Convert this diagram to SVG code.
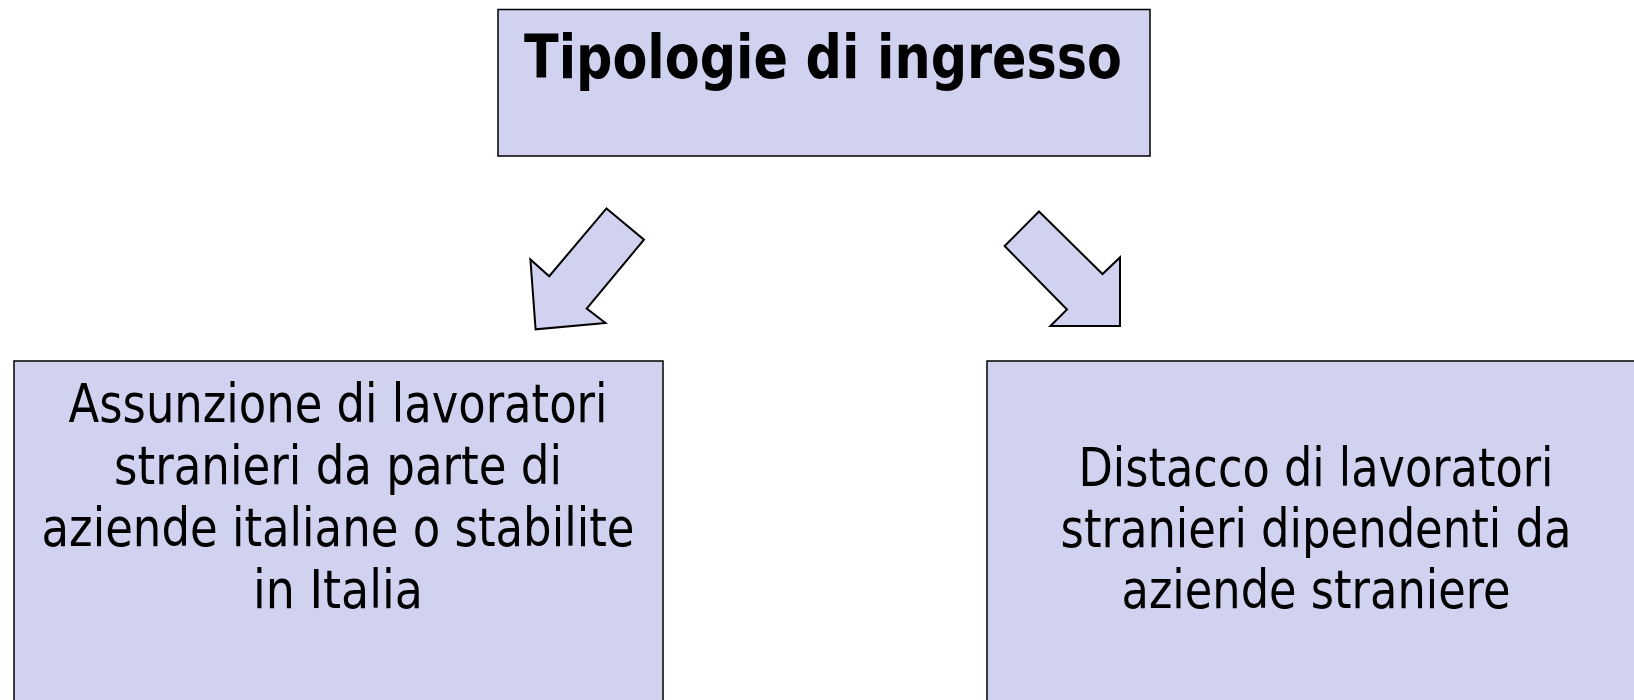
<svg xmlns="http://www.w3.org/2000/svg" width="1634" height="700" viewBox="0 0 1634 700">
<style>
.box{fill:#D1D2F0;stroke:#000;stroke-width:1.5}
.arrow{fill:#D1D2F0;stroke:#000;stroke-width:2;stroke-linejoin:miter}
.t{font-family:"DejaVu Sans Condensed","DejaVu Sans",sans-serif;fill:#000;text-anchor:middle}
.title{font-size:60px;font-weight:bold}
.body{font-size:53px}
</style>
<rect width="1634" height="700" fill="#fff"/>
<g id="node-top">
<rect class="box" x="498" y="9.5" width="652" height="146.5"/>
<text class="t title" x="823" y="78" textLength="598" lengthAdjust="spacingAndGlyphs">Tipologie di ingresso</text>
</g>
<g id="node-left">
<rect class="box" x="14" y="361" width="649" height="350"/>
<text class="t body" x="338" y="422" textLength="539" lengthAdjust="spacingAndGlyphs">Assunzione di lavoratori</text>
<text class="t body" x="338" y="484" textLength="448" lengthAdjust="spacingAndGlyphs">stranieri da parte di</text>
<text class="t body" x="338" y="546" textLength="593" lengthAdjust="spacingAndGlyphs">aziende italiane o stabilite</text>
<text class="t body" x="338" y="608" textLength="170" lengthAdjust="spacingAndGlyphs">in Italia</text>
</g>
<g id="node-right">
<rect class="box" x="987" y="361" width="660" height="350"/>
<text class="t body" x="1316" y="486" textLength="475" lengthAdjust="spacingAndGlyphs">Distacco di lavoratori</text>
<text class="t body" x="1316" y="547" textLength="511" lengthAdjust="spacingAndGlyphs">stranieri dipendenti da</text>
<text class="t body" x="1316" y="608" textLength="389" lengthAdjust="spacingAndGlyphs">aziende straniere</text>
</g>
<g id="connectors">
<polygon class="arrow" points="606.5,208.4 644,239.7 586.7,308.5 605.5,323 535.6,329.3 530.4,259.5 549.2,276.2"/>
<polygon class="arrow" points="1039,211.5 1102.5,274 1120,257.4 1120,326 1050.4,326 1067,309.5 1004.6,246"/>
</g>
</svg>
